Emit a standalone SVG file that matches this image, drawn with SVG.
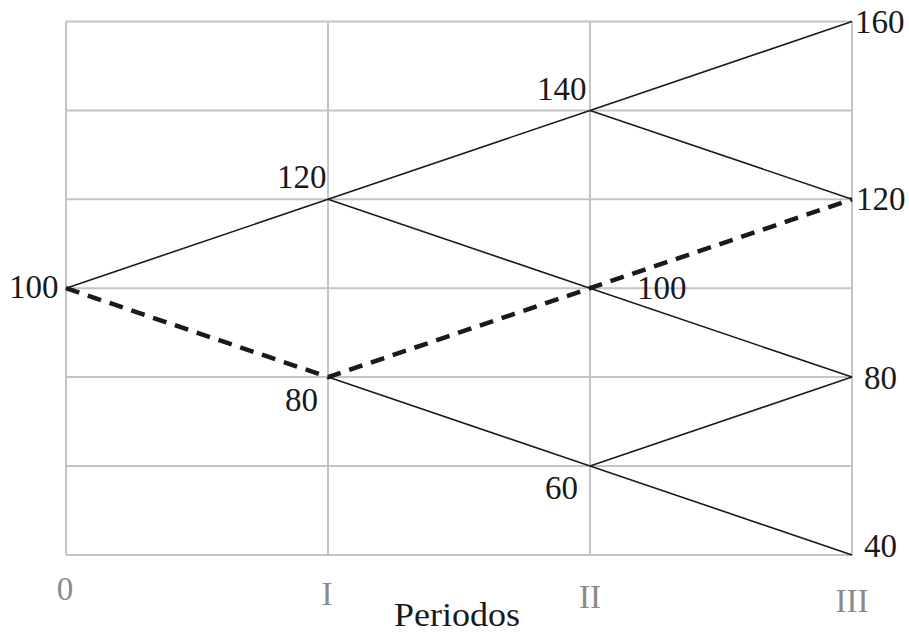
<svg xmlns="http://www.w3.org/2000/svg" width="909" height="634" viewBox="0 0 909 634">
<style>
.grid line{stroke:#c4c4c4;stroke-width:2}
.edge{stroke:#1a1a1a;stroke-width:1.6;fill:none}
.dash{stroke:#1a1a1a;stroke-width:4.5;fill:none;stroke-dasharray:14 9}
.lbl{font-family:"Liberation Serif",serif;font-size:33px;fill:#1a1a1a}
.ax{font-family:"Liberation Serif",serif;font-size:33px;fill:#8a8a8a}
</style>
<rect width="909" height="634" fill="#fff"/>
<g class="grid" id="grid">
<line x1="66" y1="21.5" x2="852" y2="21.5"/>
<line x1="66" y1="110.4" x2="852" y2="110.4"/>
<line x1="66" y1="199.3" x2="852" y2="199.3"/>
<line x1="66" y1="288.2" x2="852" y2="288.2"/>
<line x1="66" y1="377.1" x2="852" y2="377.1"/>
<line x1="66" y1="466" x2="852" y2="466"/>
<line x1="66" y1="554.9" x2="852" y2="554.9"/>
<line x1="66" y1="21.5" x2="66" y2="554.9"/>
<line x1="328" y1="21.5" x2="328" y2="554.9"/>
<line x1="590" y1="21.5" x2="590" y2="554.9"/>
<line x1="852" y1="21.5" x2="852" y2="554.9"/>
</g>
<g id="connectors">
<line class="edge" x1="66" y1="288.2" x2="328" y2="199.3"/>
<line class="edge" x1="328" y1="199.3" x2="590" y2="110.4"/>
<line class="edge" x1="590" y1="110.4" x2="852" y2="21.5"/>
<line class="edge" x1="590" y1="110.4" x2="852" y2="199.3"/>
<line class="edge" x1="328" y1="199.3" x2="590" y2="288.2"/>
<line class="edge" x1="590" y1="288.2" x2="852" y2="377.1"/>
<line class="edge" x1="328" y1="377.1" x2="590" y2="466"/>
<line class="edge" x1="590" y1="466" x2="852" y2="377.1"/>
<line class="edge" x1="590" y1="466" x2="852" y2="554.9"/>
<polyline class="dash" points="66,288.2 328,377.1 590,288.2 852,199.3"/>
</g>
<g id="n100a"><text class="lbl" x="9" y="298">100</text></g>
<g id="n120a"><text class="lbl" x="277" y="188">120</text></g>
<g id="n80a"><text class="lbl" x="285" y="411">80</text></g>
<g id="n140"><text class="lbl" x="537" y="100">140</text></g>
<g id="n100b"><text class="lbl" x="637" y="299">100</text></g>
<g id="n60"><text class="lbl" x="545" y="499">60</text></g>
<g id="n160"><text class="lbl" x="855" y="33">160</text></g>
<g id="n120b"><text class="lbl" x="856" y="210">120</text></g>
<g id="n80b"><text class="lbl" x="864" y="389">80</text></g>
<g id="n40"><text class="lbl" x="864" y="557">40</text></g>
<g id="axis">
<text class="ax" x="65" y="600" text-anchor="middle">0</text>
<text class="ax" x="327" y="605" text-anchor="middle">I</text>
<text class="ax" x="590" y="608" text-anchor="middle">II</text>
<text class="ax" x="852" y="612" text-anchor="middle">III</text>
<text class="lbl" x="394" y="626" textLength="126" lengthAdjust="spacingAndGlyphs">Periodos</text>
</g>
</svg>
